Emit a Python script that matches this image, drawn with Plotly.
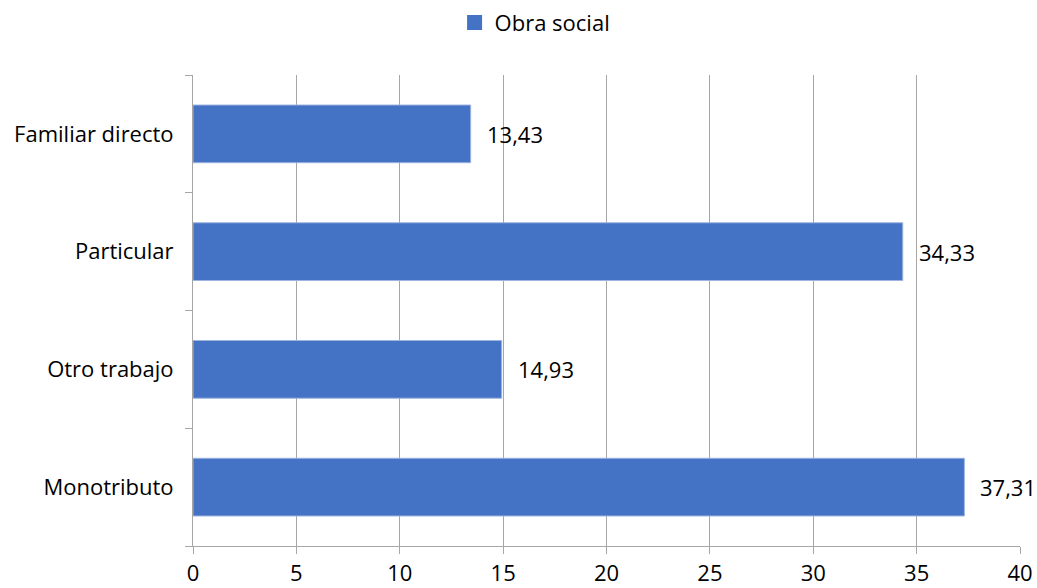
import plotly.graph_objects as go

categories = ["Monotributo", "Otro trabajo", "Particular", "Familiar directo"]
values = [37.31, 14.93, 34.33, 13.43]
labels = ["37,31", "14,93", "34,33", "13,43"]
series_name = "Obra social"
x_ticks = [0, 5, 10, 15, 20, 25, 30, 35, 40]

FONT = "Open Sans"
FS = 22
fig = go.Figure()
fig.add_trace(go.Bar(
    y=categories, x=values, orientation="h", name=series_name,
    marker=dict(color="#4472C4", line=dict(color="#9db3e0", width=1)),
    width=0.49, showlegend=False,
))
fig.add_trace(go.Scatter(
    x=[None], y=[None], mode="markers", name=series_name,
    marker=dict(symbol="square", size=15, color="#4472C4"),
    showlegend=True,
))
for c, v, t in zip(categories, values, labels):
    fig.add_annotation(x=v, y=c, text=t, showarrow=False, xanchor="left",
                       yanchor="middle", xshift=14,
                       font=dict(family=FONT, size=FS, color="#000"))

fig.update_layout(
    width=1037, height=588,
    paper_bgcolor="white", plot_bgcolor="white",
    margin=dict(l=193, r=17, t=75, b=42, autoexpand=False),
    font=dict(family=FONT, size=FS, color="#000"),
    showlegend=True,
    legend=dict(orientation="h", x=0.516, xanchor="center", xref="container",
                y=0.997, yanchor="top", yref="container", font=dict(size=FS),
                itemwidth=30),
    bargap=0.5,
)
fig.update_xaxes(range=[0, 40], tickvals=x_ticks, ticktext=[str(v) for v in x_ticks],
                 showgrid=True, gridcolor="#a6a6a6", gridwidth=1,
                 showline=True, linecolor="#a6a6a6", linewidth=1,
                 ticks="outside", ticklen=7, tickcolor="#a6a6a6",
                 ticklabelstandoff=1,
                 zeroline=False, tickfont=dict(size=FS), automargin=False)
fig.update_yaxes(categoryorder="array", categoryarray=categories,
                 showline=True, linecolor="#a6a6a6", linewidth=1,
                 ticks="outside", ticklen=7, tickcolor="#a6a6a6",
                 tickson="boundaries", showgrid=False, ticklabelstandoff=14,
                 tickfont=dict(size=FS), automargin=False)

# remove the default 8px page margin so the figure fills the window exactly
fig.write_html("out.html",
               config={"displayModeBar": False},
               post_script="document.body.style.margin='0';document.body.style.overflow='hidden';")
